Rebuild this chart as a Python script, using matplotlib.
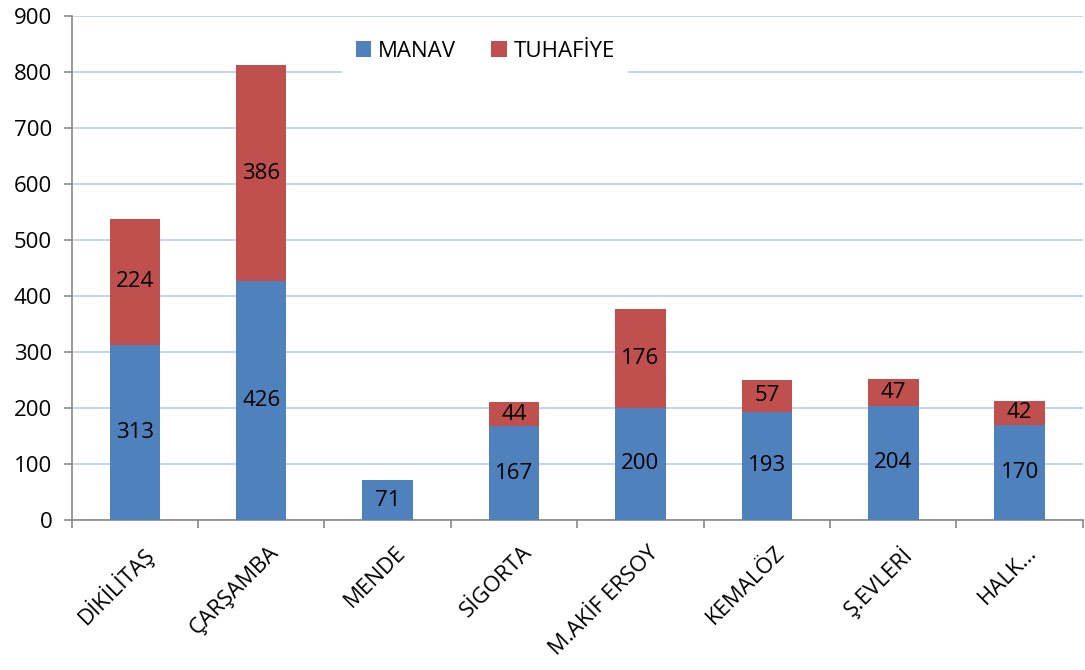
import numpy as np
import matplotlib.pyplot as plt
import matplotlib.transforms as mtransforms

plt.rcParams['font.family'] = ['Open Sans', 'DejaVu Sans']

categories = ["DİKİLİTAŞ", "ÇARŞAMBA", "MENDE", "SİGORTA",
              "M.AKİF ERSOY", "KEMALÖZ", "Ş.EVLERİ", "HALK…"]
manav = [313, 426, 71, 167, 200, 193, 204, 170]
tuhafiye = [224, 386, 0, 44, 176, 57, 47, 42]

blue = "#4F81BD"
red = "#C0504D"
fs = 16

fig = plt.figure(figsize=(10.85, 6.7), dpi=100)
ax = fig.add_axes([0.066, 0.224, 0.932, 0.752])

x = np.arange(len(categories))
w = 0.4
ax.bar(x, manav, w, color=blue, label="MANAV", zorder=3)
ax.bar(x, tuhafiye, w, bottom=manav, color=red, label="TUHAFİYE", zorder=3)

# value labels in the middle of each segment
for i in range(len(categories)):
    ax.text(x[i], manav[i] / 2, str(manav[i]), ha="center", va="center",
            fontsize=fs, zorder=4)
    if tuhafiye[i] > 0:
        ax.text(x[i], manav[i] + tuhafiye[i] / 2, str(tuhafiye[i]),
                ha="center", va="center", fontsize=fs, zorder=4)

ax.set_xlim(-0.5, len(categories) - 0.5)
ax.set_ylim(0, 900)
ax.set_yticks(range(0, 901, 100))
ax.yaxis.grid(True, color="#B9CDE5", linewidth=1.2, zorder=0)

ax.set_xticks(x)
ax.set_xticklabels(categories, rotation=45, ha="right", rotation_mode="anchor",
                   fontsize=fs)
ax.tick_params(axis="x", length=0, pad=16)
shift = mtransforms.ScaledTranslation(7 / 100, 0, fig.dpi_scale_trans)
for lbl in ax.get_xticklabels():
    lbl.set_transform(lbl.get_transform() + shift)
ax.set_xticks(np.arange(-0.5, len(categories)), minor=True)
ax.tick_params(axis="x", which="minor", length=6, color="#888888", width=1.2)
ax.tick_params(axis="y", length=6, color="#888888", width=1.2, labelsize=fs,
               pad=8)

for s in ["top", "right"]:
    ax.spines[s].set_visible(False)
for s in ["left", "bottom"]:
    ax.spines[s].set_color("#888888")
    ax.spines[s].set_linewidth(1.2)

leg = ax.legend(loc="upper center", bbox_to_anchor=(0.409, 1.0), ncol=2,
                frameon=True, fontsize=fs, handlelength=0.7, handleheight=0.7,
                columnspacing=1.6, handletextpad=0.3, borderpad=0.6,
                fancybox=False)
leg.get_frame().set_facecolor("white")
leg.get_frame().set_edgecolor("none")
leg.get_frame().set_alpha(1)
leg.set_zorder(5)

fig.savefig("out.png", dpi=100)
